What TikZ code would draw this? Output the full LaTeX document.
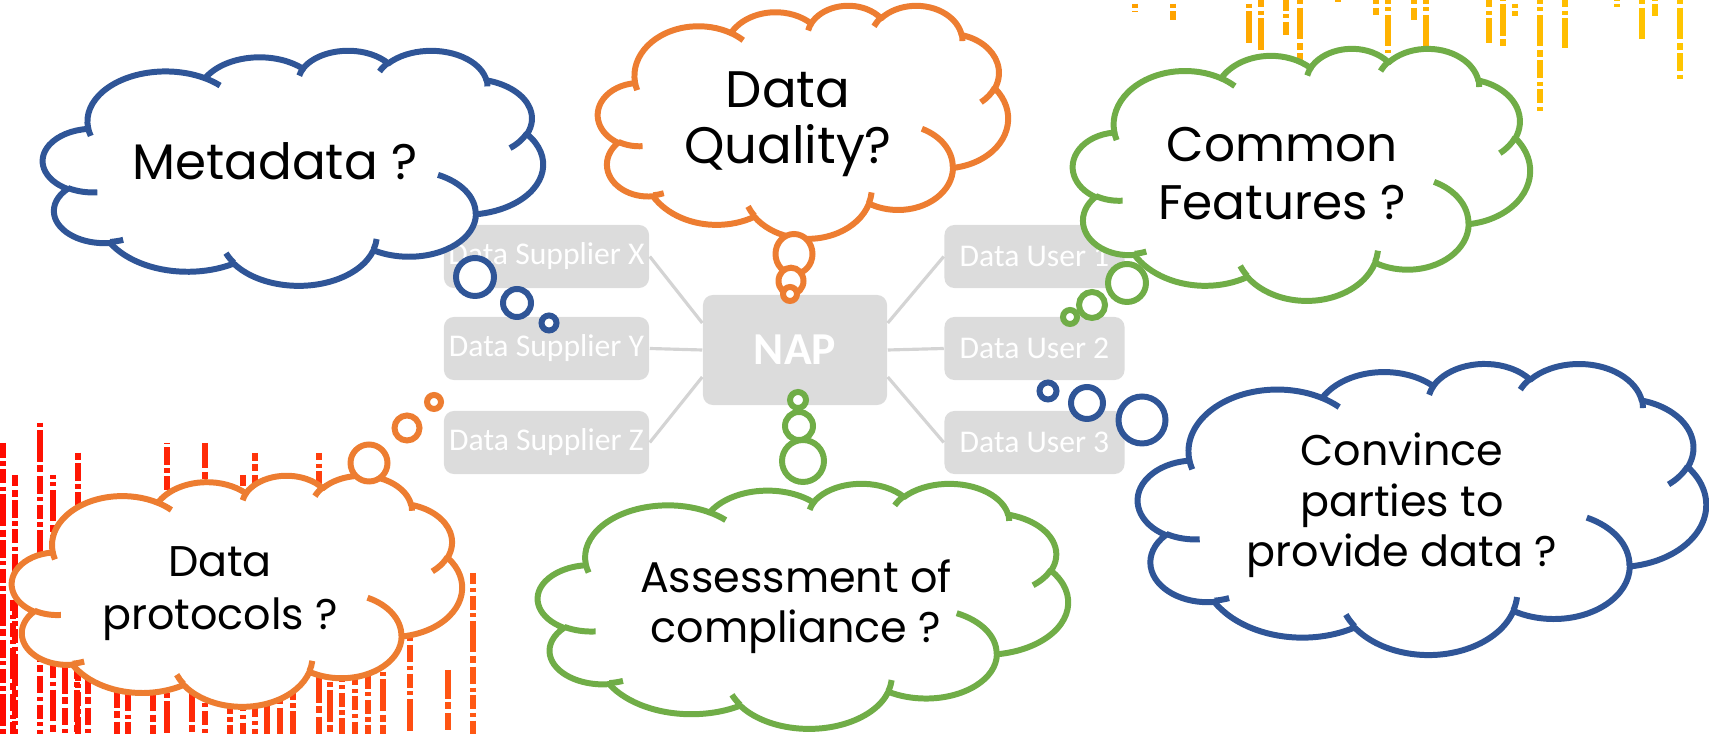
\documentclass[tikz,border=0pt]{standalone}
\usepackage{fontspec}
\setmainfont{Poppins}
\newfontfamily\napfont{Carlito}

\definecolor{cblue}{HTML}{2F5597}
\definecolor{corange}{HTML}{ED7D31}
\definecolor{cgreen}{HTML}{70AD47}
\definecolor{napgrey}{HTML}{DCDCDC}
\definecolor{napline}{HTML}{D4D4D4}
\definecolor{barred}{HTML}{FF0A00}
\definecolor{barredor}{HTML}{FF5A14}
\definecolor{baror}{HTML}{FFA000}
\definecolor{baryel}{HTML}{FFC600}

% one lobe of the cloud: radii, start angle, sweep (angles as seen on the ellipse)
\newcommand\cldarc[4]{%
  \pgfextra{%
    \pgfmathparse{atan2((#1)*sin(#3),(#2)*cos(#3))}\global\let\cldta\pgfmathresult
    \pgfmathparse{atan2((#1)*sin(#3+#4),(#2)*cos(#3+#4))}\global\let\cldtb\pgfmathresult
    \pgfmathparse{mod(\cldtb-(\cldta)+720,360)}\global\let\cldd\pgfmathresult}%
  arc[start angle=\cldta, delta angle=\cldd, x radius=#1, y radius=#2]}

% cloud outline in a 100x100 box (y down)
\newcommand\cloudpath{(9.028,33.264)
  \cldarc{15.632}{21.273}{-190.487}{123.781}
  \cldarc{12.345}{16.822}{-144.102}{89.945}
  \cldarc{10.104}{13.762}{-145.808}{99.723}
  \cldarc{11.243}{15.266}{-130.986}{117.242}
  \cldarc{12.345}{16.836}{-78.709}{109.027}
  \cldarc{15.683}{21.343}{-46.267}{130.269}
  \cldarc{13.391}{18.211}{0.625}{114.033}
  \cldarc{15.630}{21.331}{22.452}{115.173}
  \cldarc{17.870}{24.405}{66.243}{75.711}
  \cldarc{10.093}{13.699}{-274.942}{146.736}
  \cldarc{10.058}{13.762}{-246.829}{152.519}
  -- cycle}

% the little inner curves
\newcommand\cloudticks{(10.863,60.595) \cldarc{10.058}{13.762}{86.742}{26.430}
  (16.037,80.785) \cldarc{10.093}{13.699}{73.611}{11.447}
  (38.144,90.486) \cldarc{15.630}{21.331}{137.624}{14.081}
  (66.729,80.442) \cldarc{15.630}{21.331}{6.453}{15.998}
  (79.002,53.134) \cldarc{13.391}{18.211}{-70.292}{70.917}
  (96.755,35.542) \cldarc{12.345}{16.836}{30.318}{27.752}
  (88.713,12.560) \cldarc{11.243}{15.266}{-13.744}{14.859}
  (67.310,9.148) \cldarc{11.243}{15.266}{-149.181}{18.195}
  (51.252,10.926) \cldarc{10.104}{13.762}{-163.494}{17.686}
  (32.407,12.019) \cldarc{15.632}{21.273}{-66.707}{12.319}
  (9.553,36.549) \cldarc{15.632}{21.273}{157.654}{11.858}}

\newcommand\cloudlines[1]{\begin{tabular}[t]{@{}c@{}}#1\end{tabular}}

\begin{document}
\begin{tikzpicture}[x=0.01cm, y=-0.01cm,
    cloudline/.style={line width=1.7pt, line join=round},
    bubble/.style={line width=1.7pt, fill=white},
    cloudtext/.style={inner sep=0pt, anchor=base, text=black},
    napbox/.style={fill=napgrey, rounded corners=0.1cm, text=white, inner sep=0pt,
      minimum height=0.63cm, font=\napfont\fontsize{9}{10}\selectfont},
    napedge/.style={draw=napline, line width=0.9pt},
    barline/.style={line width=1.7pt, dash pattern=on 4pt off 1pt on 1.2pt off 1pt on 9pt off 1pt on 2pt off 1pt on 5pt off 1pt on 1.2pt off 1pt}]
\useasboundingbox (0,0) rectangle (1709,734);

% data streams
\foreach \x/\t in {3/443, 13/600, 15/475, 40/419, 53/475, 65/600, 77/600, 78/452, 88/600,
    117/600, 128/600, 153/600, 167/443, 192/600, 205/443, 230/600, 243/475, 255/453,
    267/600, 280/600, 293/600, 319/453, 330/600, 342/600, 355/600, 368/600, 383/600,
    410/637, 448/670, 473/573} {
  \pgfmathsetmacro\m{100-\x/4.8}
  \pgfmathsetmacro\ph{mod(\x*7,23)}
  \draw[barline, draw=barred!\m!barredor, dash phase=\ph pt] (\x,\t) -- (\x,734);
}
\foreach \x/\b in {1135/12, 1173/20, 1249/43, 1261/53, 1286/35, 1300/63, 1338/2, 1376/15,
    1388/53, 1414/20, 1426/50, 1489/43, 1503/48, 1515/16, 1540/113, 1565/48, 1617/7,
    1642/40, 1655/16, 1680/80} {
  \pgfmathsetmacro\m{100-(\x-1130)/5.6}
  \pgfmathsetmacro\ph{mod(\x*3,19)}
  \draw[barline, draw=baror!\m!baryel, dash phase=\ph pt] (\x,0) -- (\x,\b);
}

% NAP in the middle
\node[napbox, minimum width=1.84cm, minimum height=1.10cm,
  font=\napfont\bfseries\fontsize{13}{15}\selectfont] (nap) at (795,350) {NAP};
\node[napbox, minimum width=2.05cm] (supx) at (546.5,256.5) {Data Supplier X};
\node[napbox, minimum width=2.05cm] (supy) at (546.5,348.5) {Data Supplier Y};
\node[napbox, minimum width=2.05cm] (supz) at (546.5,442.5) {Data Supplier Z};
\node[napbox, minimum width=1.80cm] (usr1) at (1034.5,256.5) {Data User 1};
\node[napbox, minimum width=1.80cm] (usr2) at (1034.5,348.5) {Data User 2};
\node[napbox, minimum width=1.80cm] (usr3) at (1034.5,442.5) {Data User 3};
\draw[napedge] (supx.east) -- ([yshift=0.27cm]nap.west);
\draw[napedge] (supy.east) -- (nap.west);
\draw[napedge] (supz.east) -- ([yshift=-0.27cm]nap.west);
\draw[napedge] (usr1.west) -- ([yshift=0.27cm]nap.east);
\draw[napedge] (usr2.west) -- (nap.east);
\draw[napedge] (usr3.west) -- ([yshift=-0.27cm]nap.east);

% Metadata
\begin{scope}[shift={(43,50)}, xscale=5, yscale=2.35]
  \filldraw[cloudline, draw=cblue, fill=white] \cloudpath;
  \draw[cloudline, draw=cblue] \cloudticks;
\end{scope}
\draw[bubble, draw=cblue] (475,277) circle[radius=19];
\draw[bubble, draw=cblue] (517,303) circle[radius=14];
\draw[bubble, draw=cblue] (549,323) circle[radius=7.5];
\node[cloudtext, font=\fontsize{14.2}{16}\selectfont] (meta) at (275,180) {Metadata ?};

% Data quality
\begin{scope}[shift={(598,5)}, xscale=4.1, yscale=2.33]
  \filldraw[cloudline, draw=corange, fill=white] \cloudpath;
  \draw[cloudline, draw=corange] \cloudticks;
\end{scope}
\draw[bubble, draw=corange] (794,254) ellipse[x radius=18.5, y radius=20];
\draw[bubble, draw=corange] (791,281) ellipse[x radius=12.5, y radius=13.3];
\draw[bubble, draw=corange] (790,294) circle[radius=7];
\node[cloudtext, font=\fontsize{14.6}{15.6}\selectfont] (qual) at (788,108) {\cloudlines{Data\\Quality?}};

% Common features
\begin{scope}[shift={(1073,48)}, xscale=4.57, yscale=2.52]
  \filldraw[cloudline, draw=cgreen, fill=white] \cloudpath;
  \draw[cloudline, draw=cgreen] \cloudticks;
\end{scope}
\draw[bubble, draw=cgreen] (1127,283) circle[radius=19];
\draw[bubble, draw=cgreen] (1092,305) circle[radius=13];
\draw[bubble, draw=cgreen] (1070,317) circle[radius=7];
\node[cloudtext, font=\fontsize{13.8}{16.4}\selectfont] (feat) at (1282,162) {\cloudlines{Common\\Features ?}};

% Convince parties
\begin{scope}[shift={(1138,363)}, xscale=5.68, yscale=2.91]
  \filldraw[cloudline, draw=cblue, fill=white] \cloudpath;
  \draw[cloudline, draw=cblue] \cloudticks;
\end{scope}
\draw[bubble, draw=cblue] (1142,420) circle[radius=23.5];
\draw[bubble, draw=cblue] (1087,403) circle[radius=16];
\draw[bubble, draw=cblue] (1048,391) circle[radius=8.5];
\node[cloudtext, font=\fontsize{12.2}{14.3}\selectfont] (conv) at (1402,466) {\cloudlines{Convince\\parties to\\provide data ?}};

% Assessment
\begin{scope}[shift={(538,483)}, xscale=5.3, yscale=2.45]
  \filldraw[cloudline, draw=cgreen, fill=white] \cloudpath;
  \draw[cloudline, draw=cgreen] \cloudticks;
\end{scope}
\draw[bubble, draw=cgreen] (803,461) circle[radius=21];
\draw[bubble, draw=cgreen] (799,426) circle[radius=14];
\draw[bubble, draw=cgreen] (798,400) circle[radius=8];
\node[cloudtext, font=\fontsize{12.2}{14.2}\selectfont] (asse) at (796,593) {\cloudlines{Assessment of\\compliance ?}};

% Data protocols
\begin{scope}[shift={(12,475)}, xscale=4.5, yscale=2.31]
  \filldraw[cloudline, draw=corange, fill=white] \cloudpath;
  \draw[cloudline, draw=corange] \cloudticks;
\end{scope}
\draw[bubble, draw=corange] (369,463) circle[radius=18.5];
\draw[bubble, draw=corange] (407,428) circle[radius=12.5];
\draw[bubble, draw=corange] (434,402) circle[radius=7];
\node[cloudtext, font=\fontsize{12.2}{15}\selectfont] (prot) at (220,577) {\cloudlines{Data\\protocols ?}};
\end{tikzpicture}
\end{document}
